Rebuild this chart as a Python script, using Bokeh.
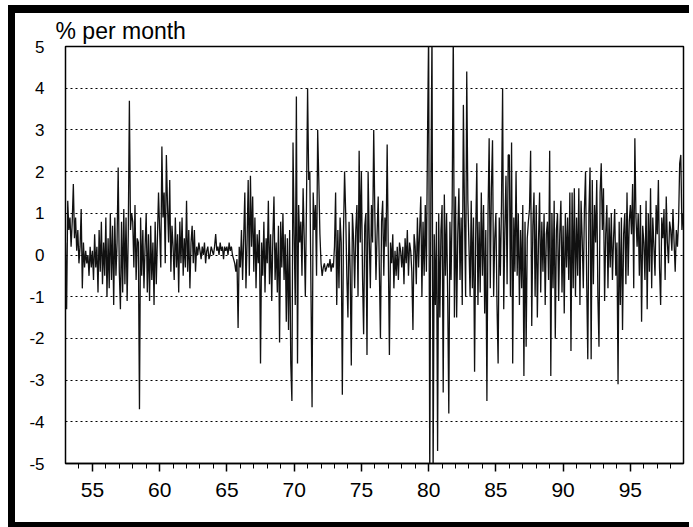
from bokeh.plotting import figure
from bokeh.models import FixedTicker, Title
from bokeh.embed import file_html
from bokeh.resources import INLINE

# ---- data (monthly, % per month) ----
start_year = 1953
vals_1953_1959 = [
    0.3, -1.3, 1.3, 0.6, 0.9, 0.2, 0.8, 1.7, 0.4, 0.9, 0.1, 0.6,
    -0.2, 0.2, 1.1, -0.8, 0.3, -0.3, 0.1, -0.2, 0.0, -0.5, 0.2, -0.3,
    0.1, -0.6, 0.5, -0.3, 0.2, -0.9, 0.6, -0.4, 0.8, -0.7, 0.3, -0.5,
    0.9, -1.0, 0.4, -0.8, 1.0, -0.6, 0.7, -1.2, 0.9, -0.5, 0.3, 2.1,
    -0.4, -1.3, 0.8, -0.9, 1.1, -0.7, 0.9, -1.1, 0.5, 3.7, 0.6, 1.0,
    0.8, -0.3, 1.2, -0.6, 0.4, 0.3, -3.7, 0.9, -0.5, 0.6, -0.8, 0.2,
    1.0, -0.9, 0.5, -1.1, 0.7, -0.6, 0.3, -1.2, 0.8, -0.7, 0.4, 1.5,
]
vals_1960_1969 = [
    0.6, -0.3, 2.6, 0.9, 1.5, -0.2, 2.4, 1.2, 0.3, 1.8, -0.4, 0.7,
    0.2, -0.6, 0.9, -0.3, 0.5, -0.9, 0.8, -0.2, 0.9, -0.5, 0.4, -0.3,
    1.3, -0.4, 0.6, -0.8, 0.3, 0.7, -0.2, 0.6, -0.4, 0.2, 0.0, 0.3,
    0.1, -0.1, 0.2, 0.0, 0.3, -0.2, 0.1, 0.2, -0.1, 0.0, 0.2, 0.1,
    0.0, 0.2, 0.5, 0.1, 0.2, 0.0, 0.3, 0.1, 0.2, -0.1, 0.2, 0.1,
    0.2, 0.0, 0.3, 0.1, 0.2, 0.0, -0.1, -0.2, -0.4, -0.1, -1.75, 0.2,
    -0.3, 0.6, -0.6, 0.4, 1.5, -0.8, 0.3, 1.8, -0.5, 1.9, 0.2, 1.4,
    -0.4, 0.9, -0.8, 0.5, -0.2, 0.6, -2.6, 0.3, -0.5, 0.8, -0.9, 0.4,
    -0.2, 1.3, -0.7, 0.5, -1.1, 0.4, 1.4, -0.6, 0.3, -0.9, 0.7, -2.1,
    0.8, -0.3, 1.0, -0.6, 0.5, -1.6, 0.4, -1.8, 0.6, -2.6, -3.5, 2.7,
]
vals_1970_1979 = [
    0.5, -1.2, 3.8, -2.6, 1.2, 0.3, 0.8, -0.5, 1.6, 0.4, -1.0, 1.2,
    4.0, 1.8, 2.0, -0.8, -3.65, 1.5, 0.6, 1.2, -0.5, 3.0, 1.8, 0.5,
    -0.2, -0.5, -0.3, -0.2, -0.4, -0.3, -0.2, -0.3, -0.1, -0.4, -0.2, -0.3,
    0.2, 1.5, -1.2, 0.6, -0.8, 0.9, 0.3, -3.35, 0.5, 2.0, 1.0, -0.5,
    -1.5, 0.8, -0.4, -2.65, 1.0, 0.4, -0.8, 0.6, 1.2, -1.0, 2.5, 0.3,
    2.0, -0.5, -1.9, 0.7, 1.0, -2.4, 2.0, 0.4, -0.8, 1.2, 0.3, 3.0,
    1.0, -0.6, 0.5, 1.4, -0.3, -2.0, 0.8, 1.3, -0.5, 0.9, 0.2, 2.65,
    0.1, -2.4, 0.3, -0.2, 0.5, -0.8, 0.1, -0.5, 0.2, -0.6, 0.3, 0.1,
    -0.3, 0.2, -0.7, 0.4, -0.2, 0.6, -0.5, 0.3, 0.1, -0.4, -1.8, 0.5,
    0.2, -0.7, 0.9, -0.3, 0.6, 1.4, -1.0, 0.8, -0.5, 1.2, -0.4, 2.8,
]
vals_1980_1989 = [
    5.4, -5.4, 1.5, 5.4, -5.4, 0.5, -1.2, 0.8, -4.7, 1.0, -1.5, 0.6,
    1.2, -3.3, 1.45, -0.5, 1.0, -1.0, -3.8, 0.8, -0.6, 1.2, 5.4, -1.5,
    1.4, -1.5, 0.5, 1.6, -0.6, 0.9, -1.2, 3.6, 1.0, -1.0, 4.4, 1.3,
    0.2, -1.0, 1.3, -0.8, 0.9, -2.8, 0.5, 2.2, -1.2, 0.8, -0.9, 1.5,
    -0.5, 1.2, -1.4, 0.6, -3.5, 1.0, 2.8, -0.8, 1.6, 2.75, -1.0, 0.4,
    1.0, -1.2, -2.6, 0.9, -0.5, 1.2, 4.0, -1.3, 0.6, 1.9, -0.7, 2.4,
    2.4, -1.0, 2.7, -2.6, 0.9, -0.4, 2.0, -0.5, 1.0, -1.2, 0.6, -0.8,
    1.2, -2.9, 0.8, -2.2, 0.4, 0.8, 1.1, 2.5, -1.7, 0.7, 1.5, -1.0,
    1.2, -1.5, 0.3, 1.5, -0.9, 0.8, -0.4, 1.0, -1.2, 0.5, 0.8, -0.6,
    2.5, -2.9, 1.0, -0.8, 1.3, -2.0, 0.6, 1.0, -1.1, 0.5, 1.3, -0.9,
]
vals_1990_1998 = [
    0.7, -1.4, 1.0, -0.3, 0.9, -0.6, 1.5, -2.3, 1.5, -0.8, 1.6, -1.0,
    0.9, -0.5, 1.6, -1.2, 1.3, 0.4, -0.8, 1.1, 2.0, -0.6, -2.5, 1.0,
    2.1, -2.5, 1.8, -0.7, 1.2, 0.3, 1.8, -1.0, -2.2, 1.5, 2.2, 0.6,
    1.6, -1.1, 0.5, 1.2, -0.8, 0.9, -0.3, 1.0, -0.6, 0.4, 1.1, -0.5,
    0.3, -3.1, 0.8, -1.2, 0.9, -1.8, 0.5, 1.0, -0.7, 1.5, -0.5, 0.8,
    1.2, 0.5, 1.7, -0.8, 2.8, 0.9, 0.2, 1.0, -0.5, 1.2, -1.6, 0.7,
    0.3, -0.6, 1.3, -1.3, 1.0, -0.4, 1.6, -0.8, 0.9, 0.2, -0.5, 1.2,
    0.5, 1.8, -0.3, -1.2, 0.9, 0.4, 1.1, -0.6, 1.4, 0.3, -0.2, 0.8,
    0.6, 0.1, 1.1, 0.3, -0.4, 0.6, 0.2, 0.8, 2.2, 2.4, 0.6, 1.0,
]
y_ticks = [-5, -4, -3, -2, -1, 0, 1, 2, 3, 4, 5]
y_tick_labels = ["-5", "-4", "-3", "-2", "-1", "0", "1", "2", "3", "4", "5"]
x_ticks = [1955, 1960, 1965, 1970, 1975, 1980, 1985, 1990, 1995]
x_tick_labels = ["55", "60", "65", "70", "75", "80", "85", "90", "95"]
x_minor = list(range(1954, 1999))
grid_levels = [-4, -3, -2, -1, 0, 1, 2, 3, 4]

values = vals_1953_1959 + vals_1960_1969 + vals_1970_1979 + vals_1980_1989 + vals_1990_1998
dates = [start_year + i / 12.0 for i in range(len(values))]

FONT = "Liberation Sans"

p = figure(width=674, height=509, x_range=(1953.0, 1998.95), y_range=(-5, 5),
           output_backend="svg", toolbar_location=None,
           min_border_left=50, min_border_right=6, min_border_top=32, min_border_bottom=59)
# thick black frame of the scanned figure (drawn as shadows so the canvas keeps its size)
p.styles = {"margin-top": "13px", "margin-left": "15px",
            "box-shadow": "8px 0 0 0 white, -7px -8px 0 0 black, 0 -8px 0 0 black, "
                          "-7px 0 0 0 black, -7px 5px 0 0 black, 0 5px 0 0 black"}

p.title = Title(text="% per month", align="left", offset=-10, standoff=5,
                text_font=FONT, text_font_size="23px", text_font_style="normal",
                text_color="black")

p.background_fill_color = "white"
p.border_fill_color = "white"
p.outline_line_color = "black"
p.outline_line_width = 1.5

p.xgrid.visible = False
p.ygrid.ticker = FixedTicker(ticks=grid_levels)
p.ygrid.grid_line_color = "black"
p.ygrid.grid_line_dash = "2 3"
p.ygrid.grid_line_width = 1

p.line(dates, values, line_color="#111111", line_width=1.3)

xa = p.xaxis[0]
xa.ticker = FixedTicker(ticks=x_ticks, minor_ticks=x_minor)
xa.major_label_overrides = {t: l for t, l in zip(x_ticks, x_tick_labels)}
xa.major_label_text_font = FONT
xa.major_label_text_font_size = "21px"
xa.major_label_text_color = "black"
xa.major_tick_in = 0
xa.major_tick_out = 8
xa.minor_tick_in = 0
xa.minor_tick_out = 5
xa.major_tick_line_color = "black"
xa.minor_tick_line_color = "black"
xa.major_tick_line_width = 1.5
xa.minor_tick_line_width = 1
xa.axis_line_color = "black"
xa.axis_line_width = 1.5
xa.major_label_standoff = 11

ya = p.yaxis[0]
ya.ticker = FixedTicker(ticks=y_ticks)
ya.major_label_overrides = {t: l for t, l in zip(y_ticks, y_tick_labels)}
ya.major_label_text_font = FONT
ya.major_label_text_font_size = "17px"
ya.major_label_text_color = "black"
ya.major_tick_line_color = None
ya.minor_tick_line_color = None
ya.axis_line_color = None
ya.major_label_standoff = 15

open("out.html", "w").write(file_html(p, INLINE))
